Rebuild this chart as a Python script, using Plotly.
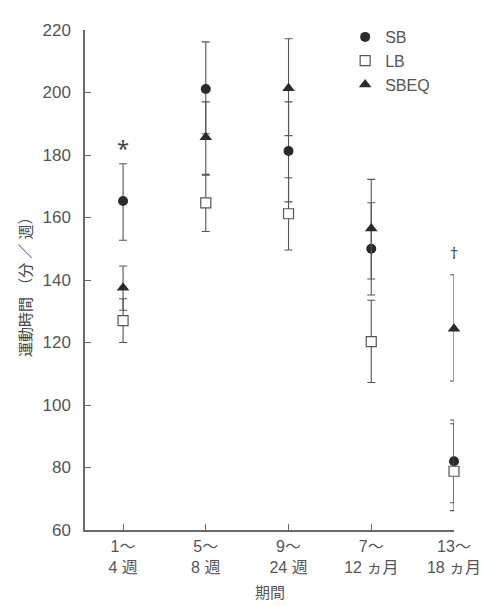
import plotly.graph_objects as go

periods = ["1〜<br>4 週", "5〜<br>8 週", "9〜<br>24 週", "7〜<br>12 ヵ月", "13〜<br>18 ヵ月"]
xpos = [0, 1, 2, 3, 4]

sb_mean = [165.3, 201.1, 181.3, 150.0, 82.0]
sb_hi = [177.2, 216.2, 197.0, 164.7, 95.2]
sb_lo = [152.7, 186.8, 165.0, 135.2, 68.7]

lb_mean = [127.0, 164.7, 161.2, 120.3, 78.8]
lb_hi = [134.0, 173.5, 172.7, 133.5, 94.0]
lb_lo = [120.0, 155.5, 149.6, 107.2, 66.2]

sbeq_mean = [137.5, 185.7, 201.4, 156.5, 124.4]
sbeq_hi = [144.5, 197.0, 217.2, 172.2, 141.7]
sbeq_lo = [130.3, 173.8, 186.2, 140.3, 107.7]

marks = ["*", "", "", "", "†"]
mark_y = [182.5, None, None, None, 148.6]

ytick_vals = [60, 80, 100, 120, 140, 160, 180, 200, 220]

FONT = "Liberation Sans, Arial, Noto Sans CJK JP"
INK = "#2a2a2a"
AX = "#6a6a6a"
TXT = "#555555"

def err(mean, hi, lo):
    return dict(type="data", symmetric=False,
                array=[h - m for h, m in zip(hi, mean)],
                arrayminus=[m - l for m, l in zip(mean, lo)],
                color="#555555", thickness=1.1, width=4)

fig = go.Figure()
fig.add_trace(go.Scatter(x=xpos, y=sb_mean, mode="markers", name="SB",
                         error_y=err(sb_mean, sb_hi, sb_lo), cliponaxis=False,
                         marker=dict(symbol="circle", size=10, color=INK)))
fig.add_trace(go.Scatter(x=xpos, y=lb_mean, mode="markers", name="LB",
                         error_y=err(lb_mean, lb_hi, lb_lo), cliponaxis=False,
                         marker=dict(symbol="square", size=10, color="white",
                                     line=dict(color="#555555", width=1.2))))
fig.add_trace(go.Scatter(x=xpos, y=sbeq_mean, mode="markers", name="SBEQ",
                         error_y=err(sbeq_mean, sbeq_hi, sbeq_lo), cliponaxis=False,
                         marker=dict(symbol="triangle-up", size=11, color=INK)))

for xv, t, yv in zip(xpos, marks, mark_y):
    if t:
        fig.add_annotation(x=xv, y=yv, text=t, showarrow=False,
                           font=dict(size=22 if t == "*" else 16, color="#444444",
                                     family="Noto Sans, Liberation Sans"),
                           yanchor="middle")

# axis titles as annotations for exact placement
fig.add_annotation(x=0.5, y=0, xref="paper", yref="paper", text="期間", showarrow=False,
                   xanchor="center", yanchor="middle", yshift=-62,
                   font=dict(size=15, color=TXT, family=FONT))
fig.add_annotation(x=0, y=0.5, xref="paper", yref="paper", text="運動時間 （分 ／ 週）",
                   showarrow=False, textangle=-90, xanchor="center", yanchor="middle",
                   xshift=-60, yshift=-3, font=dict(size=15, color="#444444", family=FONT))

fig.update_layout(
    width=495, height=598,
    margin=dict(l=77, r=49, t=13, b=76),
    plot_bgcolor="white", paper_bgcolor="white",
    font=dict(family=FONT, color=TXT),
    showlegend=True,
    legend=dict(x=0.705, y=1.02, xanchor="left", yanchor="top",
                bgcolor="rgba(255,255,255,0)", font=dict(size=16, color=TXT),
                itemsizing="trace", tracegroupgap=0),
    xaxis=dict(range=[-0.46, 4.0], tickmode="array", tickvals=xpos, ticktext=periods,
               showline=True, linecolor=AX, linewidth=1.5, showgrid=False, zeroline=False,
               ticks="inside", ticklen=6, tickcolor=AX, tickwidth=1.2,
               tickfont=dict(size=16, color=TXT), ticklabelstandoff=1, automargin=False),
    yaxis=dict(range=[60, 220], tickmode="array", tickvals=ytick_vals,
               showline=True, linecolor=AX, linewidth=1.5, showgrid=False, zeroline=False,
               ticks="inside", ticklen=6, tickcolor=AX, tickwidth=1.2,
               tickfont=dict(size=17, color=TXT), ticklabelstandoff=9, automargin=False),
)

fig.write_html("out.html")
